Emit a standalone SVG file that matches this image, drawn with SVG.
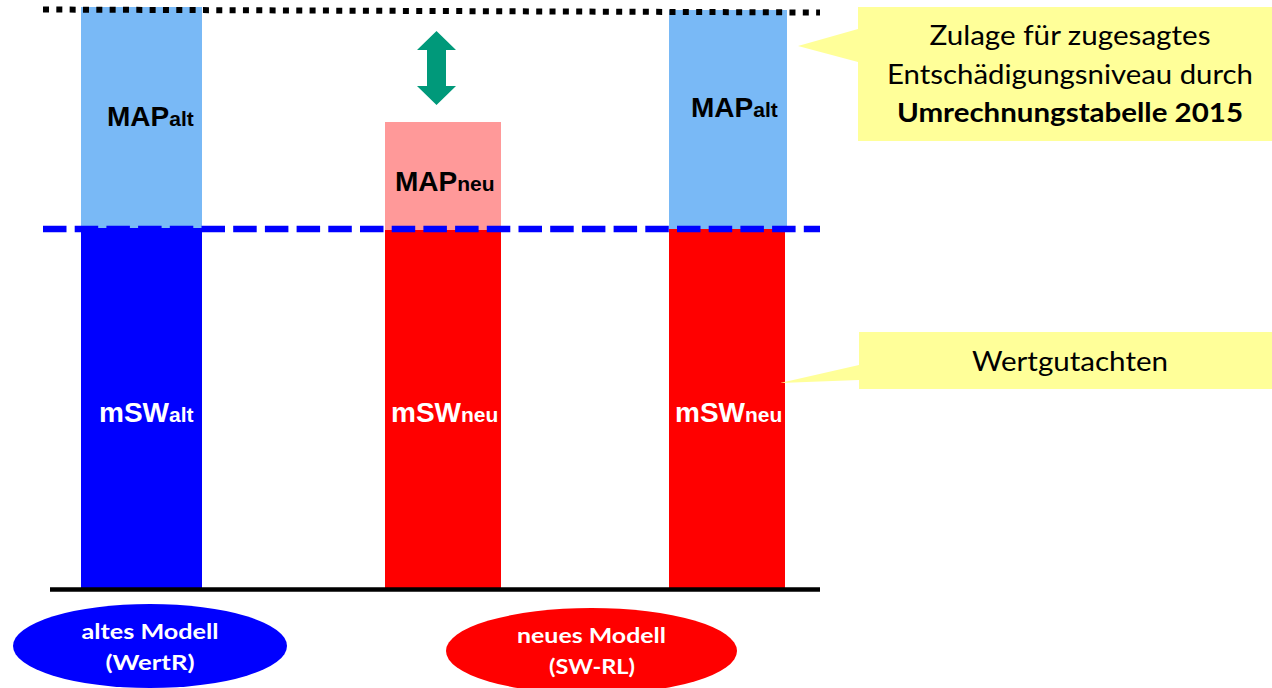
<svg xmlns="http://www.w3.org/2000/svg" width="1272" height="688" viewBox="0 0 1272 688">
<style>
.lbl{font-family:"Liberation Sans",Arial,sans-serif;font-weight:bold;font-size:28px}
.sub{font-size:21px}
.dark{fill:#000}
.white{fill:#fff}
.call{fill:#FFFF99}
.ctext{font-family:Lato,"Open Sans",sans-serif;font-size:26px;fill:#000;text-anchor:middle}
.etext{font-family:Lato,"Open Sans",sans-serif;font-size:20px;font-weight:bold;fill:#fff;text-anchor:middle}
</style>
<rect width="1272" height="688" fill="#fff"/>
<g id="bar-alt">
<rect x="81" y="7" width="121" height="222" fill="#79B9F6"/>
<rect x="81" y="228" width="121" height="362" fill="#0000FF"/>
<text class="lbl dark" x="107" y="126">MAP<tspan class="sub">alt</tspan></text>
<text class="lbl white" x="99" y="422">mSW<tspan class="sub">alt</tspan></text>
</g>
<g id="bar-neu">
<rect x="385" y="122" width="116" height="109" fill="#FF9999"/>
<rect x="385" y="230" width="116" height="360" fill="#FF0000"/>
<text class="lbl dark" x="395" y="191">MAP<tspan class="sub">neu</tspan></text>
<text class="lbl white" x="391" y="422">mSW<tspan class="sub">neu</tspan></text>
</g>
<g id="bar-neu-zulage">
<rect x="669" y="10" width="118" height="220" fill="#79B9F6"/>
<rect x="669" y="229" width="116" height="361" fill="#FF0000"/>
<text class="lbl dark" x="691" y="117">MAP<tspan class="sub">alt</tspan></text>
<text class="lbl white" x="675" y="422">mSW<tspan class="sub">neu</tspan></text>
</g>
<g id="connectors">
<line x1="43" y1="9.5" x2="820" y2="12.5" stroke="#000" stroke-width="6" stroke-dasharray="6 7.33"/>
<line x1="43" y1="229" x2="820" y2="229" stroke="#0000FF" stroke-width="6.5" stroke-dasharray="23.5 8.2"/>
<line x1="50" y1="589.5" x2="820" y2="589.5" stroke="#000" stroke-width="4.5"/>
</g>
<g id="diff-arrow">
<path d="M436.5 31 L456 50 L446 50 L446 86 L456 86 L436.5 105 L417 86 L427 86 L427 50 L417 50 Z" fill="#00997A"/>
</g>
<g id="callout-zulage">
<path class="call" d="M858 7 H1272 V141 H858 V62 L798 46 L858 29 Z"/>
<text class="ctext" x="1070" y="45" textLength="281" lengthAdjust="spacingAndGlyphs">Zulage für zugesagtes</text>
<text class="ctext" x="1070" y="84" textLength="366" lengthAdjust="spacingAndGlyphs">Entschädigungsniveau durch</text>
<text class="ctext" x="1070" y="122" font-weight="bold" textLength="346" lengthAdjust="spacingAndGlyphs">Umrechnungstabelle 2015</text>
</g>
<g id="callout-wertgutachten">
<path class="call" d="M859 332 H1272 V389 H859 V380 L780 383 L859 365 Z"/>
<text class="ctext" x="1070" y="371" textLength="196" lengthAdjust="spacingAndGlyphs">Wertgutachten</text>
</g>
<g id="label-alt">
<ellipse cx="150" cy="646" rx="137" ry="42" fill="#0000FF"/>
<text class="etext" x="150" y="639" textLength="137" lengthAdjust="spacingAndGlyphs">altes Modell</text>
<text class="etext" x="150" y="670" textLength="89" lengthAdjust="spacingAndGlyphs">(WertR)</text>
</g>
<g id="label-neu">
<ellipse cx="591.5" cy="651" rx="145.5" ry="43" fill="#FF0000"/>
<text class="etext" x="591.5" y="643" textLength="149" lengthAdjust="spacingAndGlyphs">neues Modell</text>
<text class="etext" x="592" y="674" textLength="86" lengthAdjust="spacingAndGlyphs">(SW-RL)</text>
</g>
</svg>
